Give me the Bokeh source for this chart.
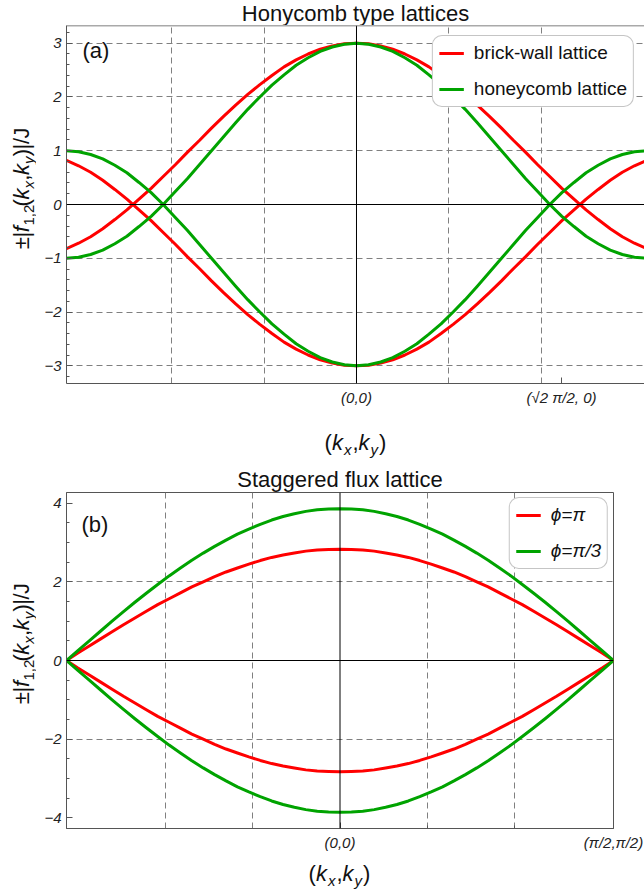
import numpy as np
from bokeh.plotting import figure
from bokeh.layouts import column, row
from bokeh.models import (Range1d, FixedTicker, Span, Label, Legend, LegendItem)
from bokeh.embed import file_html
from bokeh.resources import INLINE

# ---------------- data ----------------
x_path = [-3.142, -3.011, -2.880, -2.749, -2.618, -2.487, -2.356, -2.225, -2.094,
          -1.963, -1.833, -1.702, -1.571, -1.440, -1.309, -1.178, -1.047, -0.916,
          -0.785, -0.654, -0.524, -0.393, -0.262, -0.131, 0.000,
          0.131, 0.262, 0.393, 0.524, 0.654, 0.785, 0.916, 1.047, 1.178, 1.309,
          1.440, 1.571, 1.702, 1.833, 1.963, 2.094, 2.225, 2.356, 2.487, 2.618,
          2.749, 2.880, 3.011, 3.142]
# top panel, upper branches (the lower branches are their mirror images)
brickwall = [-0.82, -0.72, -0.60, -0.45, -0.28, -0.10, 0.10, 0.30, 0.52, 0.74,
             0.97, 1.19, 1.42, 1.64, 1.85, 2.05, 2.23, 2.40, 2.56, 2.69, 2.80,
             2.89, 2.95, 2.99, 3.00,
             2.99, 2.95, 2.89, 2.80, 2.69, 2.56, 2.40, 2.23, 2.05, 1.85, 1.64,
             1.42, 1.19, 0.97, 0.74, 0.52, 0.30, 0.10, -0.10, -0.28, -0.45,
             -0.60, -0.72, -0.82]
honeycomb = [-1.00, -0.98, -0.93, -0.85, -0.73, -0.59, -0.41, -0.22, 0.00, 0.24,
             0.48, 0.74, 1.00, 1.26, 1.52, 1.77, 2.00, 2.22, 2.41, 2.59, 2.73,
             2.85, 2.93, 2.98, 3.00,
             2.98, 2.93, 2.85, 2.73, 2.59, 2.41, 2.22, 2.00, 1.77, 1.52, 1.26,
             1.00, 0.74, 0.48, 0.24, 0.00, -0.22, -0.41, -0.59, -0.73, -0.85,
             -0.93, -0.98, -1.00]
# bottom panel, upper branches
phi_pi = [0.00, 0.19, 0.37, 0.55, 0.73, 0.91, 1.08, 1.25, 1.42, 1.57, 1.72, 1.87,
          2.00, 2.13, 2.25, 2.35, 2.45, 2.54, 2.62, 2.68, 2.73, 2.78, 2.81, 2.82,
          2.83,
          2.82, 2.81, 2.78, 2.73, 2.68, 2.62, 2.54, 2.45, 2.35, 2.25, 2.13, 2.00,
          1.87, 1.72, 1.57, 1.42, 1.25, 1.08, 0.91, 0.73, 0.55, 0.37, 0.19, 0.00]
phi_pi3 = [0.00, 0.25, 0.50, 0.75, 1.00, 1.24, 1.48, 1.71, 1.93, 2.15, 2.35, 2.55,
           2.73, 2.90, 3.06, 3.21, 3.34, 3.46, 3.57, 3.66, 3.73, 3.79, 3.83, 3.85,
           3.86,
           3.85, 3.83, 3.79, 3.73, 3.66, 3.57, 3.46, 3.34, 3.21, 3.06, 2.90, 2.73,
           2.55, 2.35, 2.15, 1.93, 1.71, 1.48, 1.24, 1.00, 0.75, 0.50, 0.25, 0.00]

top_title = "Honycomb type lattices"
bot_title = "Staggered flux lattice"
top_legend = ["brick-wall lattice", "honeycomb lattice"]
bot_legend = ["\u03d5=\u03c0", "\u03d5=\u03c0/3"]
top_yticks = {3: "3", 2: "2", 1: "1", 0: "0", -1: "\u22121", -2: "\u22122", -3: "\u22123"}
bot_yticks = {4: "4", 2: "2", 0: "0", -2: "\u22122", -4: "\u22124"}
top_xticks = {0: "(0,0)", float(np.sqrt(2) * np.pi / 2): "(\u221a2 \u03c0/2, 0)"}
bot_xticks = {0: "(0,0)", float(np.pi): "(\u03c0/2,\u03c0/2)"}

RED = "#ff0000"
GREEN = "#00a300"
FONT = "Liberation Sans"
GRID = "#808080"
FRAME = "#555555"
TXT = "#111111"
BASE_FIX = 0.26   # Bokeh draws the alphabetic baseline this many em lower

# ---------------- text helpers ----------------
ARIAL = {'(': 0.333, ')': 0.333, 'k': 0.5, 'x': 0.5, 'y': 0.5, ',': 0.278,
         '|': 0.26, 'f': 0.278, '1': 0.556, '2': 0.556, '/': 0.278, 'J': 0.5,
         '\u00b1': 0.584, ' ': 0.278}


def tw(s, fs):
    return sum(ARIAL.get(c, 0.556) for c in s) * fs


def text_fig(w, h):
    f = figure(width=w, height=h, x_range=Range1d(0, w), y_range=Range1d(0, h),
               x_axis_type=None, y_axis_type=None, toolbar_location=None,
               output_backend="svg", title=None, min_border=0)
    f.outline_line_color = None
    f.background_fill_color = "white"
    f.border_fill_color = "white"
    return f


def put(f, ox, oy, px, py, text, fs, style="normal", align="left", angle=0.0):
    """place text with its baseline at page pixel (px, py); f's top-left is at page (ox, oy)"""
    if angle:
        px = px - BASE_FIX * fs
    else:
        py = py - BASE_FIX * fs
    f.add_layout(Label(x=px - ox, y=f.height - (py - oy), text=text, angle=angle,
                       text_font=FONT, text_font_size=f"{fs}px",
                       text_font_style=style, text_align=align,
                       text_baseline="alphabetic", text_color=TXT))


MAIN, SUB, SHIFT = 22, 15, 5
ylab = [("\u00b1", MAIN, "normal", False), ("|", MAIN, "normal", False),
        ("f", MAIN, "italic", False), ("1,2", SUB, "normal", True),
        ("(", MAIN, "normal", False), ("k", MAIN, "italic", False),
        ("x", SUB, "italic", True), (",", MAIN, "normal", False),
        ("k", MAIN, "italic", False), ("y", SUB, "italic", True),
        (")", MAIN, "normal", False), ("|", MAIN, "normal", False),
        ("/", MAIN, "normal", False), ("J", MAIN, "normal", False)]
xlab = [("(", MAIN, "normal", False), ("k", MAIN, "italic", False),
        ("x", SUB, "italic", True), (",", MAIN, "normal", False),
        ("k", MAIN, "italic", False), ("y", SUB, "italic", True),
        (")", MAIN, "normal", False)]
ITAL_GAP = 1.0


def rich(f, ox, oy, pieces, center, base, vertical):
    adv = [tw(t, fs) + (ITAL_GAP if st == "italic" else 0) for t, fs, st, _ in pieces]
    total = sum(adv)
    pos = 0.0
    for (t, fs, st, sub), a in zip(pieces, adv):
        sh = SHIFT if sub else 0
        if vertical:
            put(f, ox, oy, base + sh, center + total / 2 - pos, t, fs, st, "left", np.pi / 2)
        else:
            put(f, ox, oy, center - total / 2 + pos, base + sh, t, fs, st)
        pos += a


def style_fig(p, yticks, yminor, xticks, xminor, outline=True):
    p.background_fill_color = "white"
    p.border_fill_color = "white"
    p.outline_line_color = FRAME if outline else None
    p.outline_line_width = 1
    for ax in (p.xaxis[0], p.yaxis[0]):
        ax.axis_line_color = FRAME
        ax.major_tick_line_color = FRAME
        ax.minor_tick_line_color = FRAME
        ax.major_tick_in = 6
        ax.major_tick_out = 0
        ax.minor_tick_in = 3
        ax.minor_tick_out = 0
        ax.major_label_text_font = FONT
        ax.major_label_text_font_size = "15px"
        ax.major_label_text_font_style = "italic"
        ax.major_label_text_color = "#222222"
    p.yaxis[0].ticker = FixedTicker(ticks=list(yticks.keys()), minor_ticks=yminor)
    p.yaxis[0].major_label_overrides = yticks
    p.yaxis[0].major_label_standoff = 5
    p.xaxis[0].ticker = FixedTicker(ticks=list(xticks.keys()), minor_ticks=xminor)
    p.xaxis[0].major_label_overrides = xticks
    p.xaxis[0].major_label_standoff = 5
    p.add_layout(Span(location=0, dimension="height", line_color="black", line_width=1))
    p.add_layout(Span(location=0, dimension="width", line_color="black", line_width=1))


def style_grid(p, xg, yg):
    p.xgrid.ticker = FixedTicker(ticks=xg)
    p.ygrid.ticker = FixedTicker(ticks=yg)
    for g in (p.xgrid[0], p.ygrid[0]):
        g.grid_line_color = GRID
        g.grid_line_dash = "6 4"
        g.grid_line_width = 1


def make_legend(p, labels, renderers, margin, italic):
    lg = Legend(items=[LegendItem(label=l, renderers=[r]) for l, r in zip(labels, renderers)],
                location="top_right", margin=margin, padding=6, spacing=14,
                label_height=18, glyph_height=18, glyph_width=25, label_standoff=10,
                label_text_font=FONT, label_text_font_size="19px",
                label_text_font_style="italic" if italic else "normal",
                label_text_color=TXT,
                border_line_color="#8c8c8c", border_line_width=1,
                background_fill_color="white", background_fill_alpha=1.0)
    if "border_radius" in Legend.properties():
        lg.border_radius = 10
    p.add_layout(lg)


PAGE_W = 644
YL_W = 36

# ---------------- top title strip: page y 0..25 ----------------
t1 = text_fig(PAGE_W, 25)
put(t1, 0, 0, 355, 19, top_title, 22, "normal", "center")

# ---------------- top panel: page y 25..413, frame x 66..644, y 25..383 ----------------
XR1 = (-np.pi, 3.12)
YR1 = (-3.33, 3.33)
p1 = figure(width=PAGE_W - YL_W, height=388, x_range=Range1d(*XR1), y_range=Range1d(*YR1),
            output_backend="svg", toolbar_location=None, title=None,
            min_border_left=30, min_border_right=0, min_border_top=0,
            min_border_bottom=30)
style_fig(p1, top_yticks,
          [-3.2, -2.8, -2.6, -2.4, -2.2, -1.8, -1.6, -1.4, -1.2, -0.8, -0.6, -0.4, -0.2,
           0.2, 0.4, 0.6, 0.8, 1.2, 1.4, 1.6, 1.8, 2.2, 2.4, 2.6, 2.8, 3.2],
          top_xticks, [], outline=False)
style_grid(p1, [-2, -1, 1, 2], [-3, -2, -1, 1, 2, 3])
p1.add_layout(Span(location=YR1[1], dimension="width", line_color=FRAME, line_width=1.5))

bw = np.array(brickwall)
hc = np.array(honeycomb)
r_up = p1.line(x_path, bw, line_color=RED, line_width=3, line_join="round")
p1.line(x_path, -bw, line_color=RED, line_width=3, line_join="round")
g_up = p1.line(x_path, hc, line_color=GREEN, line_width=3, line_join="round")
p1.line(x_path, -hc, line_color=GREEN, line_width=3, line_join="round")
make_legend(p1, top_legend, [r_up, g_up], 10, False)
p1.add_layout(Label(x=XR1[0], y=YR1[1], x_offset=16, y_offset=-25, text="(a)",
                    text_font=FONT, text_font_size="22px", text_color=TXT,
                    text_baseline="alphabetic"))

yl1 = text_fig(YL_W, 388)
rich(yl1, 0, 25, ylab, 202, 27, True)

# ---------------- middle strip: page y 413..492 ----------------
mid = text_fig(PAGE_W, 79)
rich(mid, 0, 413, xlab, 355, 448, False)
put(mid, 0, 413, 339.5, 485, bot_title, 22, "normal", "center")

# ---------------- bottom panel: page y 492..858, frame x 66..613, y 492..828 ----------------
XR2 = (-np.pi, np.pi)
YR2 = (-4.27, 4.27)
p2 = figure(width=PAGE_W - YL_W, height=366, x_range=Range1d(*XR2), y_range=Range1d(*YR2),
            output_backend="svg", toolbar_location=None, title=None,
            min_border_left=30, min_border_right=31, min_border_top=0,
            min_border_bottom=30)
style_fig(p2, bot_yticks, [-3.5, -3, -2.5, -1.5, -1, -0.5, 0.5, 1, 1.5, 2.5, 3, 3.5],
          bot_xticks, [1, 2])
style_grid(p2, [-2, -1, 1, 2], [-2, 2])

fp = np.array(phi_pi)
fp3 = np.array(phi_pi3)
s_up = p2.line(x_path, fp, line_color=RED, line_width=3, line_join="round")
p2.line(x_path, -fp, line_color=RED, line_width=3, line_join="round")
t_up = p2.line(x_path, fp3, line_color=GREEN, line_width=3, line_join="round")
p2.line(x_path, -fp3, line_color=GREEN, line_width=3, line_join="round")
make_legend(p2, bot_legend, [s_up, t_up], 5, True)
p2.add_layout(Label(x=XR2[0], y=YR2[1], x_offset=15, y_offset=-32, text="(b)",
                    text_font=FONT, text_font_size="22px", text_color=TXT,
                    text_baseline="alphabetic"))

yl2 = text_fig(YL_W, 366)
rich(yl2, 0, 492, ylab, 657, 27, True)

# ---------------- bottom strip: page y 858..892 ----------------
bot = text_fig(PAGE_W, 34)
rich(bot, 0, 858, xlab, 339, 879, False)

layout = column(t1, row(yl1, p1), mid, row(yl2, p2), bot)
open("out.html", "w").write(file_html(layout, INLINE))
